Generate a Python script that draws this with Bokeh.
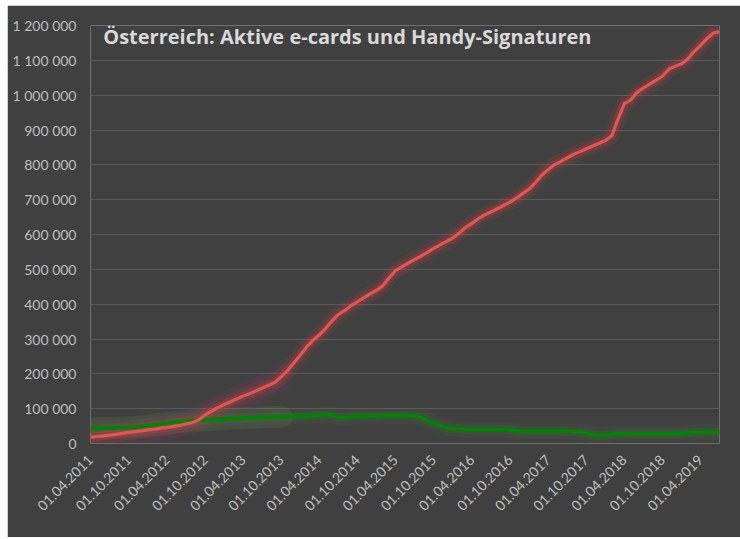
import math
import pandas as pd
from bokeh.plotting import figure
from bokeh.models import Range1d, FixedTicker, Label, ColumnDataSource
from bokeh.embed import file_html
from bokeh.resources import INLINE

# ---- data (monthly, Apr 2011 .. Jul 2019) ----
start_month = "2011-04-01"
n_months = 100
handy_signaturen = [
    18, 20, 22, 24, 26, 29, 32, 34, 36, 39,
    41, 44, 46, 49, 52, 56, 60, 68, 82, 93,
    103, 112, 120, 128, 136, 143, 151, 159, 167, 176,
    192, 210, 232, 255, 278, 296, 312, 330, 352, 370,
    382, 396, 407, 419, 430, 440, 454, 475, 496, 507,
    518, 528, 538, 549, 560, 570, 580, 590, 605, 620,
    632, 645, 656, 665, 674, 684, 693, 705, 718, 731,
    750, 770, 786, 800, 810, 820, 830, 838, 846, 854,
    862, 870, 884, 930, 976, 986, 1008, 1020, 1032, 1043,
    1055, 1075, 1083, 1090, 1105, 1125, 1143, 1162, 1178, 1183,
]
e_cards = [
    43, 43, 44, 44, 45, 45, 46, 47, 49, 51,
    53, 55, 58, 60, 62, 63, 65, 66, 67, 68,
    69, 70, 72, 72, 73, 74, 74, 75, 76, 76,
    77, 77, 78, 78, 79, 80, 81, 82, 83, 76,
    75, 77, 78, 78, 79, 79, 80, 80, 80, 80,
    80, 79, 76, 66, 58, 51, 45, 43, 42, 41,
    40, 40, 40, 40, 40, 40, 39, 36, 35, 35,
    35, 35, 35, 35, 35, 35, 34, 33, 30, 24,
    23, 23, 27, 29, 29, 29, 29, 29, 29, 29,
    29, 29, 29, 29, 30, 32, 32, 32, 32, 32,
]
x_tick_dates = [
    "2011-04-01", "2011-10-01", "2012-04-01", "2012-10-01", "2013-04-01",
    "2013-10-01", "2014-04-01", "2014-10-01", "2015-04-01", "2015-10-01",
    "2016-04-01", "2016-10-01", "2017-04-01", "2017-10-01", "2018-04-01",
    "2018-10-01", "2019-04-01",
]
x_tick_labels = [
    "01.04.2011", "01.10.2011", "01.04.2012", "01.10.2012", "01.04.2013",
    "01.10.2013", "01.04.2014", "01.10.2014", "01.04.2015", "01.10.2015",
    "01.04.2016", "01.10.2016", "01.04.2017", "01.10.2017", "01.04.2018",
    "01.10.2018", "01.04.2019",
]
y_ticks = [0, 100000, 200000, 300000, 400000, 500000, 600000,
           700000, 800000, 900000, 1000000, 1100000, 1200000]
title_text = "Österreich: Aktive e-cards und Handy-Signaturen"

# ---- build ----
dates = pd.date_range(start_month, periods=n_months, freq="MS")
src = ColumnDataSource(dict(
    x=dates,
    red=[v * 1000 for v in handy_signaturen],
    green=[v * 1000 for v in e_cards],
))
early = ColumnDataSource(dict(
    x=dates[:31],
    red=[v * 1000 for v in handy_signaturen[:31]],
    green=[v * 1000 for v in e_cards[:31]],
))

def ms(d):
    return pd.Timestamp(d).value / 1e6

BG = "#404040"
p = figure(width=733, height=532, output_backend="svg", toolbar_location=None,
           x_axis_type="datetime",
           x_range=Range1d(ms(dates[0]), ms(dates[-1])),
           y_range=Range1d(0, 1200000),
           min_border_left=83, min_border_right=21,
           min_border_top=20, min_border_bottom=94)
p.margin = (5, 0, 0, 7)
p.background_fill_color = BG
p.border_fill_color = BG
p.outline_line_color = None

# glows
glow = dict(line_join="round", line_cap="round")
p.line("x", "green", source=early, line_color="#8fc060", line_width=22, line_alpha=0.10, **glow)
p.line("x", "green", source=src, line_color="#3f8a3f", line_width=16, line_alpha=0.10, **glow)
p.line("x", "green", source=src, line_color="#3f8a3f", line_width=9, line_alpha=0.16, **glow)
p.line("x", "red", source=early, line_color="#b0306a", line_width=24, line_alpha=0.13, **glow)
p.line("x", "red", source=src, line_color="#d84040", line_width=16, line_alpha=0.13, **glow)
p.line("x", "red", source=src, line_color="#d84040", line_width=9, line_alpha=0.22, **glow)
# main lines
p.line("x", "green", source=src, line_color="#008400", line_width=3.5, line_join="round")
p.line("x", "red", source=src, line_color="#e05555", line_width=3.2, line_join="round")

# axes
tick_ms = [ms(d) for d in x_tick_dates]
p.xaxis.ticker = FixedTicker(ticks=tick_ms)
p.xaxis.major_label_overrides = {t: l for t, l in zip(tick_ms, x_tick_labels)}
p.xaxis.major_label_orientation = math.pi / 4
p.yaxis.ticker = FixedTicker(ticks=y_ticks)
p.yaxis.major_label_overrides = {t: f"{t:,}".replace(",", " ") for t in y_ticks}
for ax in (p.xaxis, p.yaxis):
    ax.axis_line_color = None
    ax.major_tick_line_color = None
    ax.minor_tick_line_color = None
    ax.major_tick_out = 0
    ax.major_tick_in = 0
    ax.major_label_text_color = "#bfbfbf"
    ax.major_label_text_font = "Lato"
    ax.major_label_text_font_size = "14px"
p.yaxis.major_label_standoff = 14
p.xaxis.major_label_standoff = 14

p.xgrid.grid_line_color = None
p.ygrid.grid_line_color = "#5a5a5a"
p.ygrid.grid_line_width = 1

p.add_layout(Label(x=ms("2011-06-01"), y=1168000, text=title_text,
                   text_font="Open Sans", text_font_style="bold",
                   text_font_size="20px", text_color="#d9d9d9",
                   text_baseline="middle", text_align="left"))

open("out.html", "w").write(file_html(p, INLINE))
